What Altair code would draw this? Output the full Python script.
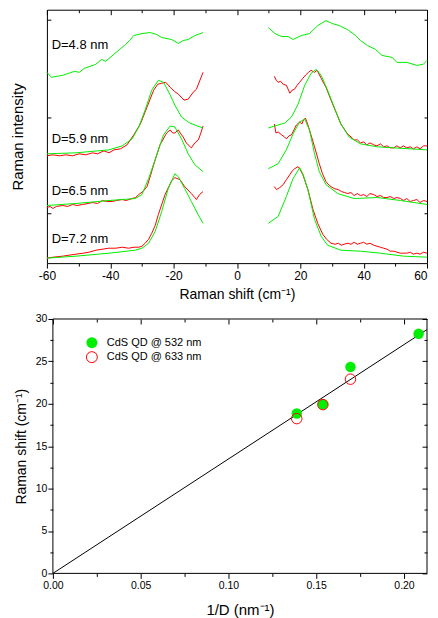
import altair as alt
import pandas as pd

FONT = "Liberation Sans"
GREEN = "#00EE00"
RED = "#FF0000"

# ---------------- Top panel: Raman spectra ----------------
# (Raman shift in cm^-1, intensity in arbitrary units including vertical offset)
d48_532_left = [(-60,192),(-58.6,187),(-55,189),(-51.3,193),(-49.8,192),(-48.2,196),(-44.6,200),(-42.7,205),(-41.5,203),(-38.9,210),(-35.2,220),(-33.9,224),(-32.6,229),(-30,231),(-27.4,232),(-25.3,230),(-23.75,227),(-20.6,225),(-18.5,221),(-17,224),(-15.4,225),(-13.3,229),(-10.7,232)]
d48_532_right = [(9.9,237),(12,231),(14.1,228),(16.2,228),(17.7,225),(20.3,229),(22.9,231),(25.5,239),(28.1,244),(30.2,241),(32.3,239),(34.9,235),(37.5,229),(39,224),(41.2,219),(43.75,215),(45.8,209),(49,207),(50.5,202),(53.6,202),(56.8,199),(58.8,200),(60,204)]

d59_532_left = [(-60,110),(-50.8,111),(-40.4,114),(-36.25,118),(-33.1,125),(-31,137),(-29,154),(-26.9,174),(-24.8,184),(-23.2,182),(-21.2,170),(-19.6,159),(-17.5,147),(-14.9,141),(-12.5,138),(-10.7,136)]
d59_633_left = [(-60,108),(-58.2,109),(-56,108),(-54,109),(-51.9,108),(-49.8,110),(-47.7,109),(-45.6,111),(-44,110),(-42,113),(-40.4,111),(-38.8,114),(-36.8,115),(-34.7,119),(-32.6,129),(-30.5,140),(-28.4,157),(-26.3,174),(-25,180),(-23.75,181),(-22.5,182),(-21.1,177),(-19.8,173),(-18.5,170),(-16.7,164),(-15.4,165),(-13.8,172),(-12.8,175),(-10.7,192)]
d59_532_right = [(9.9,136),(15.1,141),(17.2,147),(19.3,160),(21.4,179),(23.4,191),(25,195),(26.6,189),(28.6,174),(30.7,157),(32.8,140),(35.4,127),(39,120),(44.3,117),(49.5,116),(54.7,115),(60,114)]
d59_633_right = [(11.8,188),(12.4,184),(13,182),(13.8,183),(14.6,180),(15.6,179),(16.7,171),(17.4,174),(18.2,175),(19,179),(19.8,182),(20.8,186),(21.9,190),(22.6,192),(23.4,194),(24.5,192),(25.3,194),(26.6,186),(27.4,181),(28.1,177),(29.7,164),(31.25,152),(32.8,140),(34.9,130),(36,127),(37,124),(38,124),(39,121),(40,122),(41,119),(42,121),(43.2,119),(44.2,118),(45.3,120),(46.3,117),(47.4,118),(48.4,116),(49.5,116),(50.5,118),(51.5,116),(52.6,118),(53.6,116),(54.7,117),(55.7,115),(56.8,117),(57.8,115),(58.9,118),(60,118)]

d65_532_left = [(-60,58),(-50.8,60),(-40.4,63),(-32.1,65),(-30,69),(-27.9,85),(-25.3,109),(-23.2,129),(-21.1,138),(-19.6,137),(-17.5,125),(-15.4,110),(-13.3,99),(-10.7,92)]
d65_633_left = [(-60,56),(-59,57),(-58.1,55),(-57,57),(-55,58),(-53.5,57),(-51.9,59),(-50.5,58),(-48.75,59),(-47,60),(-45.6,61),(-44,60),(-42.5,63),(-41,62),(-39.4,62),(-38,63),(-36.25,64),(-35,63),(-33.1,65),(-32,66),(-31,69),(-29.7,72),(-28.4,77),(-27.3,88),(-26.3,99),(-24.3,119),(-22.2,131),(-21.1,134),(-20.3,131),(-19.6,131),(-18.5,134),(-17.7,130),(-17,127),(-16,121),(-15.4,119),(-14.4,116),(-13.3,121),(-12.2,124),(-11.5,130),(-10.7,138)]
d65_532_right = [(9.9,95),(13,100),(15.6,114),(17.7,130),(19.8,142),(21.4,145),(22.9,134),(24.5,110),(26,92),(28.1,79),(31.8,70),(37,65),(44.3,66),(51.6,63),(60,59)]
d65_633_right = [(11.8,140),(12.3,131),(13,132),(14.1,129),(15,127),(15.6,125),(16.4,128),(17.2,129),(18,134),(18.75,139),(19.8,142),(20.5,140),(21,144),(21.6,146),(22.3,140),(22.9,134),(24.5,117),(26,100),(27,90),(28.1,82),(29.2,78),(30.7,75),(32,74),(33,72),(34,71),(34.9,70),(36,71),(37,68),(38,70),(39,68),(40,69),(41,67),(42,70),(43.2,69),(44.2,67),(45.3,68),(46.3,66),(47.4,66),(48.4,67),(49.5,65),(50.5,66),(51.6,65),(52.6,63),(53.6,65),(54.7,62),(55.7,63),(56.8,64),(57.8,61),(58.9,63),(60,62)]

d72_532_left = [(-60,5),(-50.8,7),(-40.4,10),(-32.1,13),(-30,15),(-27.9,20),(-25.8,32),(-23.75,52),(-21.7,75),(-19.6,90),(-18.5,87),(-16.5,75),(-14.4,62),(-12.3,49),(-10.7,40)]
d72_633_left = [(-60,5),(-58,6),(-55,7),(-53,8),(-50.8,9),(-48.5,10),(-46.7,11),(-44.5,13),(-42.5,14),(-40.5,15),(-38.3,15),(-36.2,16),(-34.2,15),(-32.5,16),(-31,16),(-30,17),(-29,20),(-27.9,24),(-26.9,30),(-25.8,38),(-24.8,49),(-22.7,69),(-20.6,83),(-19.6,86),(-18,84),(-16.5,77),(-14.4,70),(-13.3,66),(-12.8,64),(-11.8,69),(-10.7,72)]
d72_532_right = [(9.9,40),(13,47),(15.6,67),(17.7,85),(19.8,96),(20.8,90),(22.4,74),(24.5,44),(26.6,27),(28.6,18),(32.8,13),(39,12),(45.3,10),(52.6,7),(60,6)]
d72_633_right = [(11.8,77),(12.5,74),(13.5,76),(14.6,79),(15.6,84),(16.7,89),(17.5,93),(18.2,95),(19.3,97),(20,94),(20.8,89),(22.4,74),(24,54),(25.5,40),(27.1,29),(28.3,24),(29.7,20),(31,19),(32,20),(33,18),(33.8,19),(35,20),(36,19),(37,21),(38,19),(39,20),(40,21),(41,19),(42,20),(43.2,18),(44.2,17),(45.3,16),(46.3,15),(47.4,14),(48.4,12),(49.5,12),(50.5,11),(51.6,10),(52.6,10),(53.6,10),(54.7,11),(55.7,9),(56.8,10),(57.8,9),(58.9,11),(60,10)]

spectra = [
    ("4.8-532-L", "532", d48_532_left), ("4.8-532-R", "532", d48_532_right),
    ("5.9-532-L", "532", d59_532_left), ("5.9-532-R", "532", d59_532_right),
    ("5.9-633-L", "633", d59_633_left), ("5.9-633-R", "633", d59_633_right),
    ("6.5-532-L", "532", d65_532_left), ("6.5-532-R", "532", d65_532_right),
    ("6.5-633-L", "633", d65_633_left), ("6.5-633-R", "633", d65_633_right),
    ("7.2-532-L", "532", d72_532_left), ("7.2-532-R", "532", d72_532_right),
    ("7.2-633-L", "633", d72_633_left), ("7.2-633-R", "633", d72_633_right),
]

spec_labels = ["D=4.8 nm", "D=5.9 nm", "D=6.5 nm", "D=7.2 nm"]
spec_label_x = [-58.5, -58.5, -58.5, -58.5]
spec_label_y = [219, 125, 73, 24]

# ---------------- Bottom panel: shift vs 1/D ----------------
inv_D_532 = [0.1389, 0.1538, 0.1695, 0.2083]
shift_532 = [18.85, 19.95, 24.35, 28.25]
inv_D_633 = [0.1389, 0.1538, 0.1695]
shift_633 = [18.25, 19.9, 22.9]
BOT_XMAX = 0.2131
BOT_YMAX = 30
fit_x = [0.0, BOT_XMAX]
fit_y = [0.0, 28.75]
legend_labels = ["CdS QD @ 532 nm", "CdS QD @ 633 nm"]
legend_sym_x = [0.0222, 0.0222]
legend_txt_x = [0.0307, 0.0307]
legend_y = [27.2, 25.5]

# ---------------- data frames ----------------
rows = []
for seg, laser, pts in spectra:
    for i, (x, y) in enumerate(pts):
        rows.append({"seg": seg, "laser": laser, "x": x, "y": y, "i": i})
spec_df = pd.DataFrame(rows)
lab_df = pd.DataFrame({"x": spec_label_x, "y": spec_label_y, "t": spec_labels})

p532 = pd.DataFrame({"x": inv_D_532, "y": shift_532})
p633 = pd.DataFrame({"x": inv_D_633, "y": shift_633})
fit_df = pd.DataFrame({"x": fit_x, "y": fit_y})
leg_df = pd.DataFrame({"sx": legend_sym_x, "tx": legend_txt_x, "y": legend_y, "t": legend_labels,
                       "k": ["532", "633"]})
# frame of the lower panel = edges of its axis ranges
frame_df = pd.DataFrame({"x": [0, BOT_XMAX, 0, 0], "x2": [0, BOT_XMAX, BOT_XMAX, BOT_XMAX],
                         "y": [0, 0, 0, BOT_YMAX], "y2": [BOT_YMAX, BOT_YMAX, 0, BOT_YMAX]})

common = dict(domain=False, grid=False, tickColor="black", labelColor="black", titleColor="black",
              labelFont=FONT, titleFont=FONT, titleFontWeight="normal", labelFlush=False,
              labelOverlap=False, tickWidth=1)

# ---------------- top chart ----------------
xs_t = alt.Scale(domain=[-60, 60], nice=False, zero=False)
ys_t = alt.Scale(domain=[0, 255], nice=False, zero=False)
top_xticks = list(range(-60, 61, 10))
top_yticks = [50, 147, 245]

ax_top_x = alt.Axis(values=top_xticks,
                    labelExpr="datum.value % 20 === 0 ? '' + datum.value : ''",
                    labelAlign={"condition": {"test": "datum.value === 60", "value": "right"},
                                "value": "center"},
                    tickSize={"condition": {"test": "datum.value % 20 === 0", "value": 5}, "value": 3},
                    title="Raman shift (cm⁻¹)", labelFontSize=12, titleFontSize=14,
                    labelPadding=2, titlePadding=6, **common)
ax_top_y = alt.Axis(values=top_yticks, labels=False, tickSize={"expr": "-4"},
                    title="Raman intensity", titleFontSize=15, titlePadding=21, **common)
ax_top_x_m = alt.Axis(orient="top", values=top_xticks, labels=False, title=None,
                      tickSize={"expr": "datum.value % 20 === 0 ? -5 : -3"}, **common)
ax_top_y_m = alt.Axis(orient="right", values=top_yticks, labels=False, title=None,
                      tickSize={"expr": "-3"}, **common)

red_lines = alt.Chart(spec_df).transform_filter("datum.laser === '633'").mark_line(
    color=RED, strokeWidth=1).encode(
    x=alt.X("x:Q", scale=xs_t, axis=ax_top_x),
    y=alt.Y("y:Q", scale=ys_t, axis=ax_top_y),
    detail="seg:N", order="i:Q")
green_lines = alt.Chart(spec_df).transform_filter("datum.laser === '532'").mark_line(
    color=GREEN, strokeWidth=1).encode(
    x=alt.X("x:Q", scale=xs_t, axis=None),
    y=alt.Y("y:Q", scale=ys_t, axis=None),
    detail="seg:N", order="i:Q")
top_text = alt.Chart(lab_df).mark_text(align="left", baseline="middle", font=FONT,
                                        fontSize=13, color="black").encode(
    x=alt.X("x:Q", scale=xs_t, axis=None),
    y=alt.Y("y:Q", scale=ys_t, axis=None),
    text="t:N")
top_mirror = alt.Chart(lab_df).mark_point(opacity=0).encode(
    x=alt.X("x:Q", scale=xs_t, axis=ax_top_x_m),
    y=alt.Y("y:Q", scale=ys_t, axis=ax_top_y_m))
top_spacer = alt.Chart(lab_df).mark_rule(opacity=0, strokeWidth=1).encode(
    x=alt.value(-38.5), y=alt.value(100), y2=alt.value(110))

top = alt.layer(red_lines, green_lines, top_text, top_mirror, top_spacer).resolve_axis(
    x="independent", y="independent").properties(width=381, height=254)

# ---------------- bottom chart ----------------
# plot area starts 6 px left of x = 0 (1760 px per unit); frame drawn at the data range
xs_b = alt.Scale(domain=[-6 / 1760, BOT_XMAX], nice=False, zero=False)
ys_b = alt.Scale(domain=[0, BOT_YMAX], nice=False, zero=False)
bot_xticks = [round(i * 0.025, 3) for i in range(9)]
bot_yticks = [i * 2.5 for i in range(13)]
xmaj = "abs(datum.value*20 - round(datum.value*20)) < 1e-6"
ymaj = "datum.value % 5 === 0"

ax_b_x = alt.Axis(values=bot_xticks, labelExpr=f"{xmaj} ? format(datum.value, '.2f') : ''",
                  tickSize={"condition": {"test": xmaj, "value": 5}, "value": 3},
                  title="1/D (nm⁻¹)", labelFontSize=10.5, titleFontSize=15,
                  labelPadding=2, titlePadding=12, titleX=(6 + 375 / 2), **common)
ax_b_y = alt.Axis(values=bot_yticks, labelExpr=f"{ymaj} ? format(datum.value, 'd') : ''",
                  tickSize={"condition": {"test": ymaj, "value": 5}, "value": 3},
                  title="Raman shift (cm⁻¹)", labelFontSize=10.5, titleFontSize=14,
                  labelPadding=1, titlePadding=7, offset=-6, **common)
ax_b_x_m = alt.Axis(orient="top", values=bot_xticks, labels=False, title=None,
                    tickSize={"expr": f"{xmaj} ? -5 : -3"}, **common)
ax_b_y_m = alt.Axis(orient="right", values=bot_yticks, labels=False, title=None,
                    tickSize={"expr": f"{ymaj} ? -5 : -3"}, **common)

frame = alt.Chart(frame_df).mark_rule(color="black", strokeWidth=1).encode(
    x=alt.X("x:Q", scale=xs_b, axis=None), x2="x2:Q",
    y=alt.Y("y:Q", scale=ys_b, axis=None), y2="y2:Q")
fit_line = alt.Chart(fit_df).mark_line(color="black", strokeWidth=1).encode(
    x=alt.X("x:Q", scale=xs_b, axis=ax_b_x),
    y=alt.Y("y:Q", scale=ys_b, axis=ax_b_y))
pts_532 = alt.Chart(p532).mark_circle(size=110, color=GREEN, opacity=1).encode(
    x=alt.X("x:Q", scale=xs_b, axis=None), y=alt.Y("y:Q", scale=ys_b, axis=None))
pts_633 = alt.Chart(p633).mark_point(shape="circle", filled=False, color=RED, size=110,
                                     strokeWidth=1, opacity=1).encode(
    x=alt.X("x:Q", scale=xs_b, axis=None), y=alt.Y("y:Q", scale=ys_b, axis=None))
leg_532 = alt.Chart(leg_df).transform_filter("datum.k === '532'").mark_circle(
    size=120, color=GREEN, opacity=1).encode(
    x=alt.X("sx:Q", scale=xs_b, axis=None), y=alt.Y("y:Q", scale=ys_b, axis=None))
leg_633 = alt.Chart(leg_df).transform_filter("datum.k === '633'").mark_point(
    shape="circle", filled=False, color=RED, size=120, strokeWidth=1, opacity=1).encode(
    x=alt.X("sx:Q", scale=xs_b, axis=None), y=alt.Y("y:Q", scale=ys_b, axis=None))
leg_txt = alt.Chart(leg_df).mark_text(align="left", baseline="middle", font=FONT,
                                      fontSize=11, color="black").encode(
    x=alt.X("tx:Q", scale=xs_b, axis=None), y=alt.Y("y:Q", scale=ys_b, axis=None),
    text="t:N")
bot_mirror = alt.Chart(fit_df).mark_point(opacity=0).encode(
    x=alt.X("x:Q", scale=xs_b, axis=ax_b_x_m),
    y=alt.Y("y:Q", scale=ys_b, axis=ax_b_y_m))

bottom = alt.layer(frame, fit_line, pts_532, pts_633, leg_532, leg_633, leg_txt, bot_mirror
                   ).resolve_axis(x="independent", y="independent").properties(
    width=381, height=255, view=alt.ViewBackground(strokeWidth=0, strokeOpacity=0))

chart = alt.vconcat(top, bottom, spacing=12).properties(
    padding={"left": 0, "top": 0, "right": 0, "bottom": 0},
    autosize=alt.AutoSizeParams(type="pad"),
    background="white",
).configure_view(stroke="black", strokeWidth=1)

chart.save("out.html", embed_options={"renderer": "svg", "actions": False})
